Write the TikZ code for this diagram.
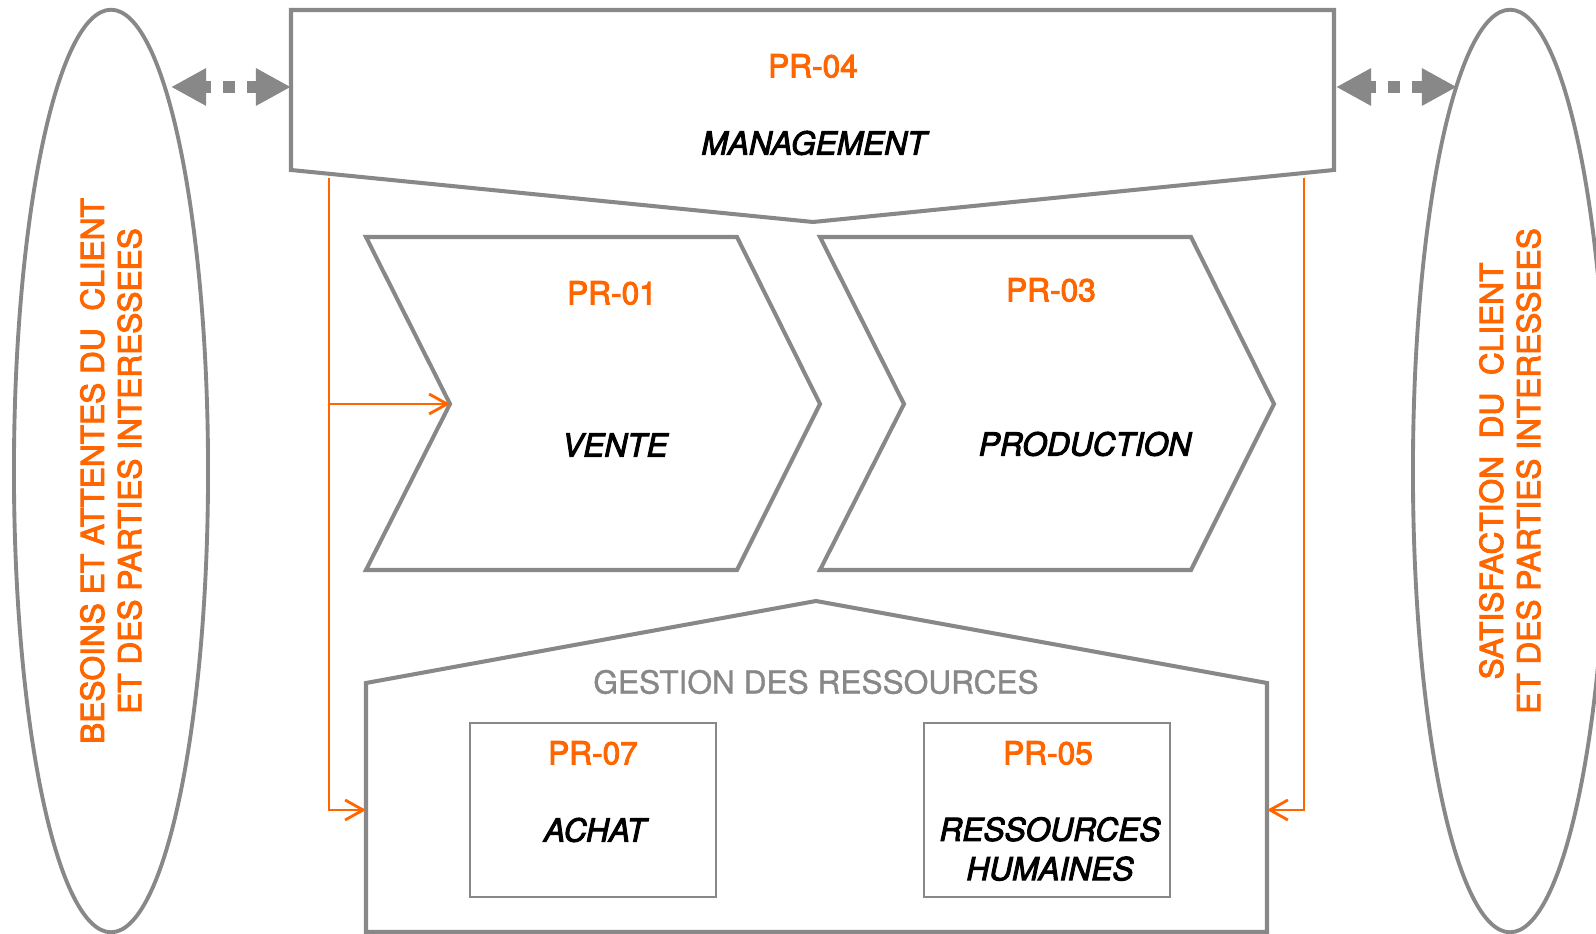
\documentclass[tikz,border=0pt]{standalone}
\usepackage{fontspec}
\setmainfont{TeX Gyre Heros}
\newfontfamily\medfont[FakeBold=3]{TeX Gyre Heros}
\newfontfamily\greyfont[FakeBold=1.2]{TeX Gyre Heros}
\usepackage{tikz}
\usetikzlibrary{arrows.meta}
\usetikzlibrary{shapes.geometric}
\definecolor{procgray}{RGB}{136,136,136}
\definecolor{procorange}{RGB}{255,102,0}
\tikzset{
	procline/.style={draw=procgray, line width=1.15pt, line join=miter},
	prlabel/.style={text=procorange, font=\medfont\fontsize{9}{10.5}\selectfont},
	prname/.style={text=black, font=\medfont\fontsize{9}{11.2}\selectfont\itshape, align=center},
	linkarrow/.style={procgray, line width=0.12cm,
		{Triangle[length=0.35cm,width=0.35cm]}-{Triangle[length=0.35cm,width=0.35cm]},
		dash pattern=on 0.12cm off 0.12cm, dash phase=0.05cm},
	feed/.style={draw=procorange, line width=0.8pt, -{Straight Barb[length=0.18cm,width=0.2cm]}}
}

\begin{document}
\begin{tikzpicture}[x=0.01cm, y=-0.01cm]
	\useasboundingbox (0,0) rectangle (1596,934);

	\begin{scope}[every node/.style={ellipse, draw=procgray, line width=1.1pt, rotate=90,
	              minimum width=9.22cm, minimum height=1.94cm, align=center,
	              text=procorange, font=\medfont\fontsize{9}{10.6}\selectfont}]
		\node (besoins) at (111,471) {BESOINS ET ATTENTES DU\ \ CLIENT\\ET DES PARTIES INTERESSEES};
		\node (satisf) at (1510,471) {SATISFACTION\ \ DU\ \ CLIENT\\ET DES PARTIES INTERESSEES};
	\end{scope}

	% management
	\coordinate (m1) at (291,10);
	\coordinate (m2) at (1334,10);
	\coordinate (m3) at (1334,170);
	\coordinate (m4) at (813,222);
	\coordinate (m5) at (291,170);
	\draw[procline] (m1) -- (m2) -- (m3) -- (m4) -- (m5) -- cycle;
	\node[prlabel] (pr04) at (813,66) {PR-04};
	\node[prname] (management) at (814,143) {MANAGEMENT};

	% realisation
	\coordinate (v) at (450,404);
	\draw[procline] (366,237) -- (737,237) -- (820,404) -- (737,570) -- (366,570) -- (v) -- cycle;
	\node[prlabel] (pr01) at (612,293) {PR-01};
	\node[prname] (vente) at (615,445) {VENTE};

	\coordinate (p) at (904,404);
	\draw[procline] (820,237) -- (1191,237) -- (1274,404) -- (1191,570) -- (820,570) -- (p) -- cycle;
	\node[prlabel] (pr03) at (1051,290) {PR-03};
	\node[prname] (production) at (1085,444) {PRODUCTION};

	% support
	\coordinate (h1) at (366,810);
	\coordinate (h2) at (1267,810);
	\draw[procline] (366,932) -- (366,683) -- (816,601) -- (1267,683) -- (1267,932) -- cycle;
	\node[text=procgray, font=\greyfont\fontsize{9}{10.5}\selectfont] (gestion) at (816,682) {GESTION DES RESSOURCES};

	\begin{scope}[every node/.style={draw=procgray, line width=0.6pt, minimum width=2.46cm, minimum height=1.74cm}]
		\node (b07) at (593,810) {};
		\node (b05) at (1047,810) {};
	\end{scope}
	\node[prlabel] (pr07) at (593,753) {PR-07};
	\node[prname] (achat) at (595,830) {ACHAT};
	\node[prlabel] (pr05) at (1048,753) {PR-05};
	\node[prname] (rh) at (1050,849) {RESSOURCES\\HUMAINES};

	% liens
	\coordinate (a1) at (171,87);
	\coordinate (a2) at (291,87);
	\coordinate (a3) at (1336,87);
	\coordinate (a4) at (1457,87);
	\draw[linkarrow] (a1) -- (a2);
	\draw[linkarrow] (a3) -- (a4);

	\coordinate (l1) at (329,178);
	\coordinate (l2) at (329,404);
	\coordinate (r1) at (1304,178);
	\draw[feed] (l1) |- (h1);
	\draw[feed] (l2) -- (v);
	\draw[feed] (r1) |- (h2);
\end{tikzpicture}
\end{document}
